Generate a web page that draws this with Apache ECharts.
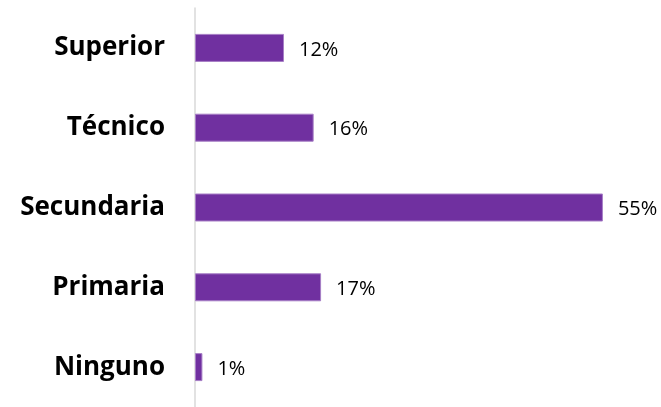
<!DOCTYPE html>
<html>
<head>
<meta charset="utf-8">
<script src="https://cdn.jsdelivr.net/npm/echarts@6/dist/echarts.min.js"></script>
<style>
  html, body { margin: 0; padding: 0; background: #fff; }
  #chart { width: 661px; height: 407px; }
</style>
</head>
<body>
<div id="chart"></div>
<script>
  // niveles educativos
  var categories = ['Superior', 'Técnico', 'Secundaria', 'Primaria', 'Ninguno'];
  var values = [12, 16, 55, 17, 1];

  var option = {
    animation: false,
    grid: {
      left: 195,
      right: 21,
      top: 8,
      bottom: -6,
    },
    xAxis: {
      type: 'value',
      min: 0,
      max: 60,
      show: false,
    },
    yAxis: {
      type: 'category',
      data: categories,
      inverse: true,
      axisLine: {
        show: true,
        lineStyle: { color: '#d9d9d9', width: 1.5 },
      },
      axisTick: { show: false },
      axisLabel: {
        margin: 30,
        color: '#000',
        fontSize: 26,
        fontWeight: 'bold',
        fontFamily: 'Open Sans',
      },
    },
    series: [
      {
        type: 'bar',
        data: values,
        barWidth: 28,
        itemStyle: {
          color: '#7030a0',
          borderColor: '#a77fc6',
          borderWidth: 1,
        },
        label: {
          show: true,
          position: 'right',
          distance: 15,
          color: '#000',
          fontSize: 20,
          fontFamily: 'Open Sans',
          offset: [0, 2],
          formatter: function (params) {
            return params.value + '%';
          },
        },
      },
    ],
  };

  var chart = echarts.init(document.getElementById('chart'));
  chart.setOption(option);
</script>
</body>
</html>
